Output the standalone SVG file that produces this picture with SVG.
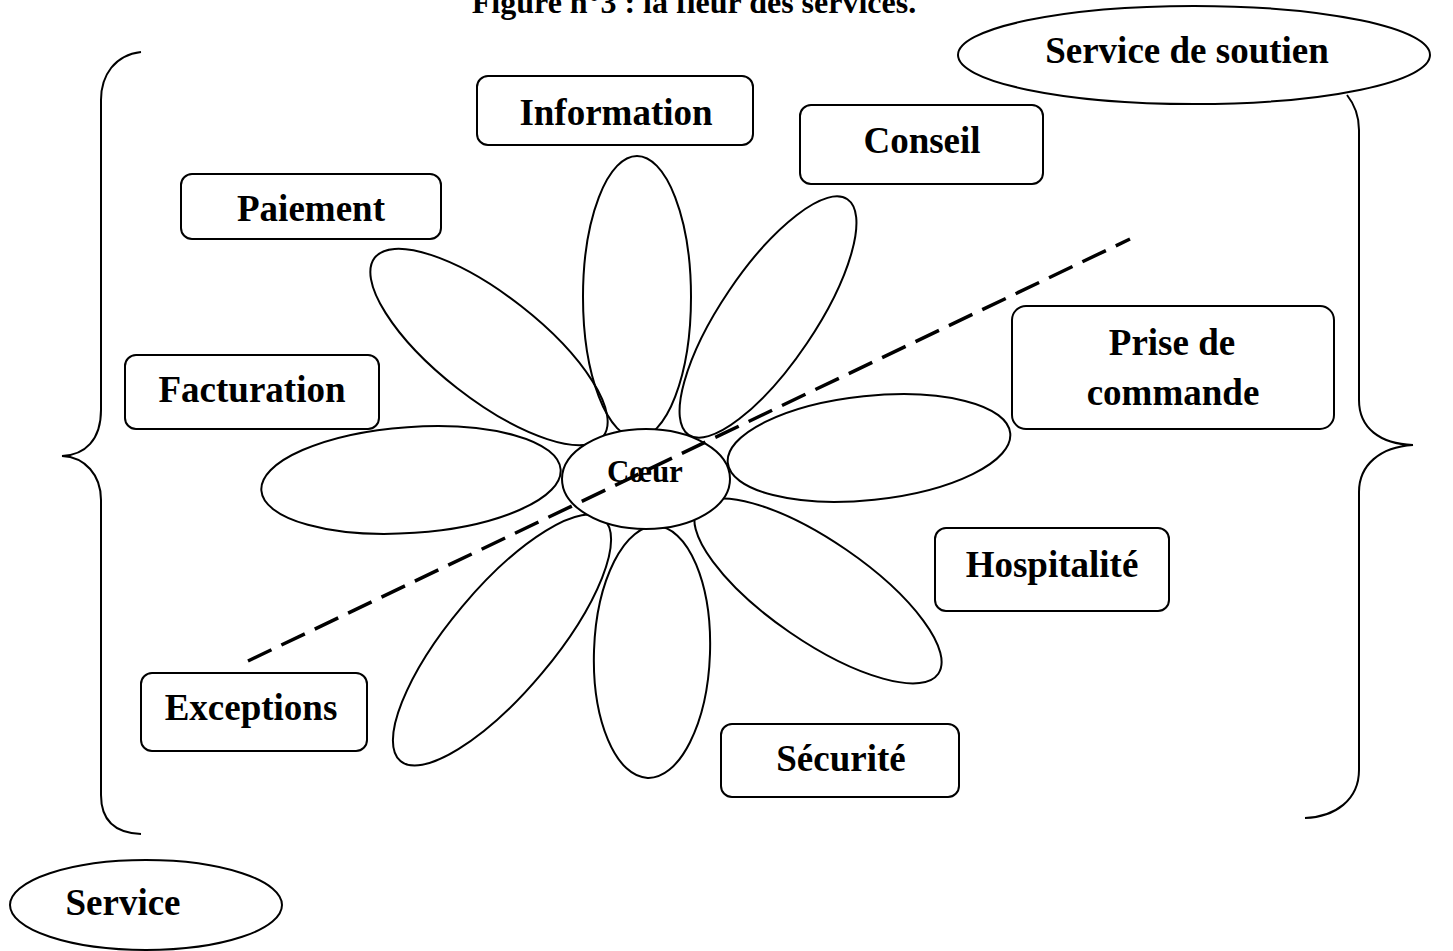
<svg xmlns="http://www.w3.org/2000/svg" width="1453" height="951" viewBox="0 0 1453 951">
<style>
  .lbl { font-family: "Liberation Serif", "Times New Roman", serif; font-weight: bold; font-size: 37px; fill: #000; text-anchor: middle; }
  .box { fill: #fff; stroke: #000; stroke-width: 2; }
  .petal { fill: none; stroke: #000; stroke-width: 2; }
  .brace { fill: none; stroke: #000; stroke-width: 2; }
  .oval { fill: #fff; stroke: #000; stroke-width: 2; }
</style>
<rect width="1453" height="951" fill="#fff"/>
<text x="694" y="13" class="lbl" style="font-size:32px">Figure n°3 : la fleur des services.</text>

<g id="braces">
  <path class="brace" d="M141,52 C115,55 101,75 101,100 L101,410 C101,440 85,455 62,456 C85,457 101,475 101,500 L101,795 C101,820 115,833 141,834"/>
  <path class="brace" d="M1347,95 C1355,105 1359,115 1359,130 L1359,400 C1359,428 1380,444 1413,445 C1380,447 1359,465 1359,492 L1359,770 C1359,800 1335,817 1305,818"/>
</g>

<g id="petals">
  <ellipse class="petal" cx="637" cy="297" rx="54" ry="141"/>
  <ellipse class="petal" cx="768" cy="317" rx="47" ry="142" transform="rotate(34 768 317)"/>
  <ellipse class="petal" cx="489" cy="347" rx="145" ry="52" transform="rotate(38 489 347)"/>
  <ellipse class="petal" cx="411" cy="480" rx="150" ry="53" transform="rotate(-4 411 480)"/>
  <ellipse class="petal" cx="869" cy="448" rx="142" ry="52" transform="rotate(-6 869 448)"/>
  <ellipse class="petal" cx="818" cy="591" rx="146" ry="50" transform="rotate(34.5 818 591)"/>
  <ellipse class="petal" cx="652" cy="652" rx="58" ry="126" transform="rotate(2 652 652)"/>
  <ellipse class="petal" cx="502" cy="640" rx="52" ry="158" transform="rotate(40 502 640)"/>
</g>

<g id="coeur">
  <ellipse class="oval" cx="646" cy="479" rx="84" ry="50"/>
  <text x="645" y="482" class="lbl" style="font-size:31px">Cœur</text>
</g>

<g id="information"><rect class="box" x="477" y="76" width="276" height="69" rx="11"/><text x="616" y="125" class="lbl">Information</text></g>
<g id="conseil"><rect class="box" x="800" y="105" width="243" height="79" rx="11"/><text x="922" y="153" class="lbl">Conseil</text></g>
<g id="paiement"><rect class="box" x="181" y="174" width="260" height="65" rx="11"/><text x="311" y="221" class="lbl">Paiement</text></g>
<g id="facturation"><rect class="box" x="125" y="355" width="254" height="74" rx="11"/><text x="252" y="402" class="lbl">Facturation</text></g>
<g id="prise"><rect class="box" x="1012" y="306" width="322" height="123" rx="14"/><text x="1172" y="355" class="lbl">Prise de</text><text x="1173" y="405" class="lbl">commande</text></g>
<g id="hospitalite"><rect class="box" x="935" y="528" width="234" height="83" rx="11"/><text x="1052" y="577" class="lbl">Hospitalité</text></g>
<g id="exceptions"><rect class="box" x="141" y="673" width="226" height="78" rx="11"/><text x="251" y="720" class="lbl">Exceptions</text></g>
<g id="securite"><rect class="box" x="721" y="724" width="238" height="73" rx="11"/><text x="841" y="771" class="lbl">Sécurité</text></g>

<g id="service-soutien"><ellipse class="oval" cx="1194" cy="55" rx="236" ry="49"/><text x="1187" y="63" class="lbl">Service de soutien</text></g>
<g id="service"><ellipse class="oval" cx="146" cy="905" rx="136" ry="45"/><text x="123" y="915" class="lbl">Service</text></g>

<g id="connectors">
  <line x1="248" y1="661" x2="1130" y2="239" stroke="#000" stroke-width="3.5" stroke-dasharray="26 11"/>
</g>
</svg>
